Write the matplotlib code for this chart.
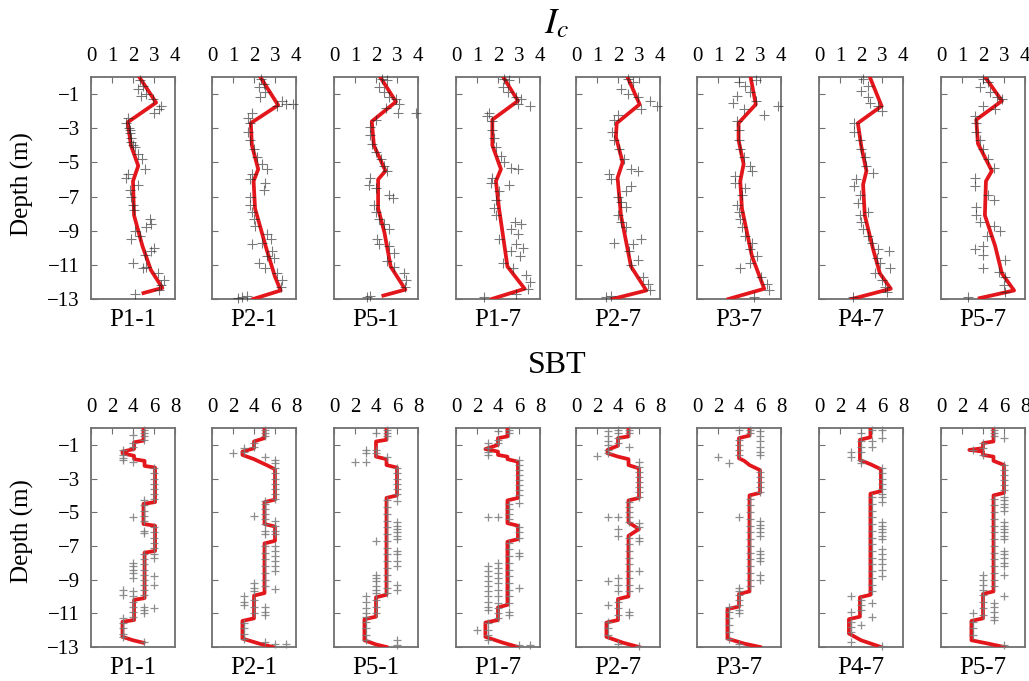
import matplotlib.pyplot as plt

plt.rcParams["font.family"] = ["Liberation Serif", "DejaVu Serif"]
plt.rcParams["mathtext.fontset"] = "stix"

# -----------------------------
# Panels and axes
# -----------------------------
panels = ["P1-1", "P2-1", "P5-1", "P1-7", "P2-7", "P3-7", "P4-7", "P5-7"]
depth_ticks = [-1, -3, -5, -7, -9, -11, -13]
ic_ticks = [0, 1, 2, 3, 4]
sbt_ticks = [0, 2, 4, 6, 8]

# -----------------------------
# Ic: fitted profile, (value, depth)
# -----------------------------
ic_line_p1_1 = [(2.3, 0), (3.1, -1.5), (1.75, -2.65), (1.9, -4.0), (2.25, -5.2), (2.0, -6.1),
                (2.05, -8.1), (2.45, -9.9), (2.85, -11.3), (3.4, -12.35), (2.5, -12.65)]
ic_line_p2_1 = [(2.3, 0), (3.15, -1.65), (1.85, -2.7), (1.9, -4.0), (2.2, -5.4), (1.98, -6.1),
                (2.05, -7.7), (2.6, -10.1), (3.0, -11.7), (3.27, -12.5), (1.96, -13.0)]
ic_line_p5_1 = [(2.2, 0), (2.95, -1.45), (1.8, -2.6), (1.9, -4.0), (2.45, -5.5), (2.1, -6.0),
                (2.1, -7.7), (2.4, -9.1), (2.7, -11.1), (3.4, -12.45), (2.35, -12.8)]
ic_line_p1_7 = [(2.25, 0), (2.95, -1.4), (1.73, -2.5), (1.73, -4.0), (2.14, -5.4), (1.9, -6.1),
                (2.05, -7.7), (2.45, -11.1), (3.27, -12.4), (1.7, -13.0)]
ic_line_p2_7 = [(2.45, 0), (3.03, -1.6), (1.94, -2.7), (1.9, -3.5), (2.22, -5.0), (1.98, -5.9),
                (2.14, -8.1), (2.62, -11.1), (3.35, -12.5), (1.73, -13.0)]
ic_line_p3_7 = [(2.55, 0), (2.8, -1.6), (1.98, -2.7), (1.98, -3.7), (2.22, -5.1), (2.06, -6.1),
                (2.14, -7.7), (2.62, -10.5), (3.2, -12.4), (1.5, -13.0)]
ic_line_p4_7 = [(2.42, 0), (2.98, -1.7), (1.85, -2.7), (2.02, -4.1), (2.26, -5.5), (2.1, -6.3),
                (2.18, -8.1), (2.58, -10.1), (2.9, -11.5), (3.42, -12.4), (1.56, -13.0)]
ic_line_p5_7 = [(2.1, 0), (2.9, -1.4), (1.68, -2.5), (1.76, -3.9), (2.42, -5.5), (2.14, -6.1),
                (2.09, -8.1), (2.58, -9.9), (2.9, -11.5), (3.48, -12.5), (1.84, -12.95)]

# -----------------------------
# Ic: measured points, (value, depth)
# -----------------------------
ic_pts_p1_1 = [(2.31, -0.2), (2.47, -0.5), (2.24, -0.7), (2.63, -1.0), (2.39, -1.1), (2.94, -1.3),
               (3.31, -1.7), (3.26, -1.9), (3.0, -2.1), (1.76, -2.4), (1.69, -2.7), (1.8, -3.0),
               (1.84, -3.1), (1.85, -3.3), (1.92, -3.6), (1.9, -3.8), (2.0, -4.0), (2.08, -4.1),
               (2.24, -4.5), (2.43, -4.8), (2.55, -5.4), (1.76, -5.7), (1.69, -5.9), (2.24, -6.3),
               (1.84, -6.6), (1.92, -7.0), (2.0, -7.5), (2.05, -7.8), (2.79, -8.3), (2.87, -8.6),
               (2.63, -8.8), (2.08, -9.0), (2.31, -9.3), (1.92, -9.5), (3.02, -10.0), (2.87, -10.2),
               (2.55, -10.4), (2.0, -10.9), (2.63, -11.1), (2.47, -11.2), (3.18, -11.5), (3.46, -11.9),
               (3.34, -12.2), (3.26, -12.5), (2.08, -12.7)]
ic_pts_p2_1 = [(2.33, -0.1), (2.46, -0.4), (2.22, -0.6), (2.54, -0.9), (2.3, -1.2), (3.35, -1.4),
               (3.51, -1.6), (3.84, -1.6), (3.1, -1.7), (1.9, -2.1), (1.73, -2.4), (1.81, -2.7),
               (1.73, -3.2), (1.81, -3.7), (1.98, -4.2), (2.14, -4.7), (2.38, -5.1), (2.62, -5.4),
               (1.9, -5.7), (1.81, -6.0), (2.54, -6.2), (2.46, -6.6), (1.81, -7.0), (1.81, -7.5),
               (1.9, -7.9), (1.98, -8.3), (2.06, -8.7), (2.62, -9.2), (2.79, -9.5), (1.9, -9.8),
               (2.38, -9.7), (2.87, -10.2), (2.62, -10.5), (2.95, -10.6), (2.22, -10.9), (2.54, -11.2),
               (3.11, -11.5), (3.35, -11.9), (3.27, -12.3), (1.41, -12.9), (1.25, -12.95), (1.65, -12.8)]
ic_pts_p5_1 = [(2.3, -0.1), (2.54, -0.2), (2.14, -0.6), (2.38, -0.9), (2.62, -1.2), (2.95, -1.3),
               (3.11, -1.6), (2.46, -1.8), (3.03, -2.1), (3.92, -2.1), (1.98, -2.5), (1.73, -2.9),
               (1.73, -3.4), (1.81, -3.9), (1.98, -4.4), (2.22, -4.8), (2.38, -5.2), (2.54, -5.5),
               (1.73, -5.9), (1.65, -6.3), (1.98, -6.5), (2.62, -6.9), (2.79, -7.1), (1.9, -7.5),
               (1.98, -7.9), (2.14, -8.3), (2.38, -8.6), (2.62, -8.9), (2.06, -9.5), (2.14, -9.8),
               (2.62, -9.9), (2.87, -10.3), (2.54, -10.8), (2.87, -11.1), (3.35, -11.5), (3.43, -11.9),
               (3.4, -12.3), (1.57, -12.9), (1.73, -12.8)]
ic_pts_p1_7 = [(2.3, -0.1), (2.54, -0.2), (2.22, -0.6), (2.46, -0.9), (2.87, -1.2), (3.11, -1.3),
               (3.51, -1.7), (2.95, -1.6), (1.57, -2.1), (1.49, -2.3), (1.73, -2.6), (1.73, -3.1),
               (1.81, -3.6), (1.9, -4.1), (2.14, -4.6), (2.3, -5.0), (2.62, -5.3), (2.95, -5.4),
               (1.73, -5.9), (1.65, -6.2), (2.54, -6.3), (2.06, -6.7), (1.9, -7.2), (1.81, -7.7),
               (1.9, -8.1), (2.79, -8.5), (3.11, -8.6), (2.62, -8.9), (2.95, -9.2), (2.06, -9.5),
               (2.87, -9.8), (3.19, -10.0), (2.62, -10.2), (3.03, -10.5), (2.22, -10.9), (2.7, -11.2),
               (3.35, -11.6), (3.51, -12.0), (3.43, -12.4), (1.33, -12.9), (2.87, -12.7)]
ic_pts_p2_7 = [(2.46, -0.1), (2.7, -0.3), (2.14, -0.7), (2.46, -1.0), (2.95, -1.2), (3.51, -1.4),
               (3.84, -1.7), (3.11, -1.9), (1.98, -2.2), (1.81, -2.5), (1.73, -3.2), (1.81, -3.7),
               (2.06, -4.2), (2.3, -4.8), (2.62, -5.4), (2.95, -5.5), (1.57, -5.7), (1.65, -6.0),
               (2.62, -6.4), (2.38, -6.7), (1.98, -7.0), (2.14, -7.3), (2.38, -7.6), (1.98, -8.1),
               (2.14, -8.5), (2.38, -8.8), (1.81, -9.7), (2.7, -9.8), (3.11, -9.5), (2.54, -10.2),
               (2.95, -10.7), (2.62, -11.0), (3.19, -11.7), (3.43, -12.1), (3.51, -12.5), (1.41, -12.9),
               (1.65, -12.85)]
ic_pts_p3_7 = [(1.98, -0.3), (2.3, -0.5), (2.79, -0.2), (2.54, -0.9), (1.9, -1.1), (1.73, -1.5),
               (2.79, -1.4), (3.84, -1.7), (2.22, -1.9), (3.19, -2.2), (1.9, -2.6), (1.98, -3.1),
               (1.98, -3.7), (2.06, -4.2), (2.22, -4.7), (2.54, -5.2), (2.62, -5.5), (1.81, -5.8),
               (1.81, -6.2), (2.3, -6.5), (2.14, -6.9), (1.9, -7.5), (1.98, -7.9), (2.06, -8.3),
               (2.14, -8.8), (2.3, -9.3), (2.62, -9.7), (2.54, -10.1), (2.87, -10.5), (2.06, -11.2),
               (2.54, -10.9), (3.03, -11.7), (3.35, -12.1), (3.43, -12.5), (2.7, -12.9)]
ic_pts_p4_7 = [(2.1, -0.1), (2.34, -0.5), (2.02, -0.8), (2.34, -1.2), (2.42, -1.5), (2.82, -1.7),
               (2.98, -2.0), (1.69, -2.7), (1.69, -3.2), (1.94, -3.7), (2.02, -4.2), (2.18, -4.7),
               (2.26, -5.2), (2.58, -5.6), (1.77, -6.0), (1.69, -6.4), (1.94, -6.9), (1.85, -7.4),
               (2.34, -7.9), (1.94, -8.1), (2.02, -8.5), (2.1, -8.9), (2.34, -9.3), (2.5, -9.7),
               (2.82, -10.1), (3.31, -10.2), (2.74, -10.6), (2.9, -10.9), (3.39, -11.2), (2.66, -11.5),
               (2.98, -11.9), (3.15, -12.3), (3.23, -12.6), (1.61, -12.9)]
ic_pts_p5_7 = [(2.01, -0.1), (2.25, -0.3), (1.84, -0.6), (2.33, -0.9), (2.66, -1.2), (2.91, -1.3),
               (2.01, -1.7), (2.58, -1.9), (1.6, -2.3), (1.68, -2.7), (1.68, -3.2), (1.84, -3.7),
               (2.01, -4.2), (2.25, -4.8), (2.5, -5.3), (1.6, -5.9), (1.6, -6.4), (2.25, -6.9),
               (2.5, -7.2), (1.68, -7.6), (1.68, -8.1), (1.84, -8.5), (2.5, -8.7), (2.82, -9.0),
               (2.17, -9.3), (1.6, -10.1), (2.01, -9.9), (2.01, -10.4), (3.07, -10.7), (2.01, -11.2),
               (2.74, -11.4), (3.07, -11.7), (2.99, -12.2), (3.07, -12.6), (1.27, -12.9)]

# -----------------------------
# SBT: fitted profile, (value, depth)
# -----------------------------
sbt_line_p1_1 = [(5.0, 0), (5.0, -0.75), (4.1, -0.85), (4.1, -1.25), (3.0, -1.4), (3.0, -1.5),
                 (4.1, -1.65), (4.1, -1.85), (5.1, -1.95), (5.1, -2.25), (6.1, -2.35), (6.1, -4.4),
                 (5.0, -4.5), (5.0, -5.7), (6.1, -5.8), (6.1, -7.3), (5.1, -7.4), (5.1, -10.1),
                 (4.1, -10.2), (4.1, -11.4), (3.0, -11.5), (3.0, -12.4), (4.0, -12.6), (5.0, -12.75)]
sbt_line_p2_1 = [(5.0, 0), (5.0, -0.6), (4.0, -0.8), (4.0, -1.2), (2.9, -1.4), (2.9, -1.6),
                 (4.0, -1.85), (5.2, -2.2), (6.0, -2.45), (6.0, -4.25), (5.0, -4.4), (5.0, -5.7),
                 (6.0, -5.85), (6.0, -6.7), (5.0, -6.85), (5.0, -9.8), (4.0, -9.95), (4.0, -11.3),
                 (2.9, -11.45), (2.9, -12.5), (4.5, -12.8), (5.8, -13.0)]
sbt_line_p5_1 = [(5.0, 0), (5.0, -0.7), (4.0, -0.8), (4.0, -1.7), (5.0, -1.85), (5.0, -2.2),
                 (6.0, -2.35), (6.0, -4.0), (5.0, -4.15), (5.0, -9.9), (4.0, -10.05), (4.0, -11.2),
                 (2.9, -11.35), (2.9, -12.6), (4.0, -12.85), (5.0, -13.0)]
sbt_line_p1_7 = [(4.9, 0), (4.9, -0.5), (4.0, -0.6), (4.0, -1.0), (2.8, -1.25), (4.0, -1.4),
                 (4.0, -1.6), (4.9, -1.7), (4.9, -1.85), (5.9, -2.0), (5.9, -4.15), (4.9, -4.3),
                 (4.9, -5.65), (5.9, -5.8), (5.9, -6.6), (4.9, -6.75), (4.9, -10.5), (4.0, -10.65),
                 (4.0, -11.4), (2.8, -11.55), (2.8, -12.4), (4.5, -12.75), (5.9, -13.0)]
sbt_line_p2_7 = [(5.0, 0), (5.0, -0.5), (4.0, -0.6), (4.0, -1.05), (3.0, -1.3), (3.0, -1.5),
                 (4.0, -1.7), (5.0, -1.85), (5.0, -2.2), (6.0, -2.4), (6.0, -4.15), (5.0, -4.3),
                 (5.0, -5.6), (6.0, -6.0), (5.0, -6.4), (5.0, -10.0), (4.0, -10.15), (4.0, -11.4),
                 (2.9, -11.55), (2.9, -12.4), (4.5, -12.75), (6.0, -13.0)]
sbt_line_p3_7 = [(5.0, 0), (5.0, -0.45), (4.0, -0.6), (4.0, -1.8), (4.5, -1.95), (5.0, -2.2),
                 (6.0, -2.5), (6.0, -3.85), (5.0, -4.0), (5.0, -9.7), (4.0, -9.85), (4.0, -10.6),
                 (2.9, -10.75), (2.9, -12.5), (4.5, -12.8), (6.0, -13.0)]
sbt_line_p4_7 = [(4.9, 0), (4.9, -0.55), (3.9, -0.7), (3.9, -1.9), (4.9, -2.15), (5.9, -2.45),
                 (5.9, -3.75), (4.9, -3.9), (4.9, -9.9), (3.9, -10.05), (3.9, -11.2), (2.85, -11.35),
                 (2.85, -12.2), (4.0, -12.6), (5.9, -13.0)]
sbt_line_p5_7 = [(5.0, 0), (5.0, -0.8), (4.0, -0.9), (4.0, -1.2), (2.7, -1.3), (4.0, -1.4),
                 (4.0, -1.6), (5.0, -1.7), (5.0, -1.95), (6.0, -2.2), (6.0, -3.85), (5.0, -4.0),
                 (5.0, -9.7), (4.0, -9.85), (4.0, -11.3), (2.9, -11.45), (2.9, -12.6), (4.5, -12.8),
                 (6.0, -13.0)]

# -----------------------------
# SBT: measured zones, {zone: depths}
# -----------------------------
sbt_pts_p1_1 = {3: [-1.3, -1.6, -1.8, -1.9, -9.6, -9.9, -11.3, -11.6, -11.9, -12.2, -12.4],
                4: [-0.4, -0.9, -1.1, -2.0, -5.3, -8.0, -8.2, -8.4, -8.6, -8.9, -9.7, -10.0, -10.3,
                    -10.6, -10.9, -11.2],
                5: [-0.1, -0.3, -0.5, -0.7, -4.3, -4.6, -4.9, -5.2, -5.5, -6.1, -6.25, -7.5, -7.8,
                    -8.1, -8.4, -8.7, -9.0, -9.3, -9.6, -9.9, -10.6, -10.8, -11.0, -12.7],
                6: [-2.4, -2.7, -3.0, -3.3, -3.6, -3.9, -4.2, -5.9, -6.2, -6.5, -6.8, -7.1, -7.5,
                    -7.7, -8.8, -9.3, -10.7]}
sbt_pts_p2_1 = {2: [-1.5],
                3: [-1.2, -1.4, -10.0, -10.3, -10.5, -11.6, -11.9, -12.2, -12.5],
                4: [-0.9, -1.1, -5.2, -9.2, -9.5, -9.7, -10.2, -10.6, -11.0],
                5: [-0.1, -0.3, -0.5, -1.7, -4.35, -4.5, -4.8, -5.1, -5.4, -5.7, -6.1, -6.3, -7.0,
                    -7.4, -7.8, -8.2, -8.6, -9.0, -9.4, -10.6, -10.9, -11.1, -12.7],
                6: [-1.9, -2.1, -2.4, -2.7, -3.0, -3.3, -3.6, -3.9, -4.2, -5.55, -5.8, -6.1, -6.3,
                    -7.0, -7.3, -7.6, -7.9, -8.2, -8.5, -9.55, -12.8],
                7: [-12.8]}
sbt_pts_p5_1 = {2: [-2.0],
                3: [-1.3, -1.5, -2.0, -10.0, -10.3, -10.7, -11.0, -11.2, -11.5, -11.9, -12.3, -12.6],
                4: [-0.3, -1.3, -1.5, -6.7, -8.7, -8.9, -9.1, -9.4, -9.6, -9.8, -10.2, -10.6, -11.0],
                5: [-0.1, -0.3, -0.5, -1.7, -4.3, -4.7, -5.1, -5.5, -5.9, -6.3, -6.7, -7.1, -7.5,
                    -7.9, -8.3, -8.7, -9.1, -9.5, -9.8],
                6: [-2.4, -2.7, -3.0, -3.3, -3.6, -3.9, -4.35, -5.6, -5.8, -6.0, -6.2, -6.4, -6.6,
                    -7.3, -7.5, -7.9, -8.2, -9.3, -9.6, -12.6, -12.9]}
sbt_pts_p1_7 = {2: [-12.0],
                3: [-0.9, -1.2, -1.4, -1.6, -5.3, -8.2, -8.5, -8.8, -9.1, -9.4, -9.7, -10.0, -10.3,
                    -10.6, -10.8, -11.6, -12.0, -12.3, -12.6],
                4: [-0.2, -0.7, -0.9, -5.3, -8.0, -8.3, -8.6, -8.9, -9.2, -9.6, -10.0, -10.4, -10.7,
                    -11.0, -11.3],
                5: [-0.1, -0.3, -4.5, -4.8, -5.1, -5.4, -6.8, -7.2, -7.6, -8.0, -8.4, -8.8, -9.2,
                    -9.6, -10.0, -10.4, -10.9, -11.1],
                6: [-1.9, -2.2, -2.5, -2.8, -3.1, -3.4, -3.7, -4.0, -4.45, -5.9, -6.2, -6.5, -7.4,
                    -7.6, -9.5, -12.9],
                7: [-12.9]}
sbt_pts_p2_7 = {2: [-1.65],
                3: [-0.2, -0.5, -0.8, -1.0, -1.3, -1.5, -5.3, -9.1, -10.5, -11.5, -11.9, -12.3],
                4: [-0.1, -0.3, -0.6, -0.9, -5.3, -6.0, -6.4, -8.9, -9.3, -9.7, -10.3, -10.7, -11.1,
                    -12.8],
                5: [-0.1, -0.3, -1.1, -4.4, -4.7, -5.0, -5.3, -5.6, -6.5, -6.9, -7.3, -7.7, -8.1,
                    -8.5, -8.9, -9.3, -9.7, -10.9, -11.1],
                6: [-2.0, -2.3, -2.6, -2.9, -3.2, -3.5, -3.8, -4.1, -5.65, -5.85, -6.5, -6.7, -8.5,
                    -9.5, -12.95]}
sbt_pts_p3_7 = {2: [-1.7],
                3: [-2.1, -10.6, -10.9, -11.3, -11.7, -12.1, -12.5],
                4: [-0.1, -0.7, -1.0, -1.3, -1.6, -5.3, -9.5, -9.7, -9.9, -10.2, -10.5, -10.8, -11.0,
                    -12.8],
                5: [-0.1, -0.3, -4.2, -4.6, -5.0, -5.4, -5.8, -6.2, -6.6, -7.0, -7.4, -7.8, -8.2,
                    -8.6, -9.0, -9.4],
                6: [-0.2, -0.5, -0.8, -1.1, -1.4, -1.6, -2.6, -2.9, -3.2, -3.5, -3.8, -5.55, -5.75,
                    -5.95, -6.15, -6.4, -7.3, -7.5, -7.7, -7.9, -8.7, -9.0]}
sbt_pts_p4_7 = {3: [-1.4, -1.7, -10.0, -10.9, -11.5, -11.8, -12.1, -12.7],
                4: [-0.3, -0.8, -1.1, -1.4, -1.9, -2.1, -10.2, -10.5, -10.8, -11.7],
                5: [-0.1, -0.8, -1.1, -4.1, -4.5, -4.9, -5.3, -5.7, -6.1, -6.5, -6.9, -7.3, -7.7,
                    -8.1, -8.5, -8.9, -9.3, -9.7, -10.4, -11.2],
                6: [-0.1, -0.6, -2.4, -2.7, -3.0, -3.3, -3.6, -3.9, -4.1, -4.4, -5.6, -5.8, -6.0,
                    -6.2, -6.4, -6.6, -7.2, -7.5, -7.8, -8.1, -8.4, -8.8, -12.95]}
sbt_pts_p5_7 = {3: [-1.3, -11.0, -11.5, -11.9, -12.3],
                4: [-0.9, -1.2, -1.6, -8.7, -9.0, -9.3, -9.6, -9.9, -10.3, -10.7, -11.1],
                5: [-0.1, -0.3, -0.5, -4.2, -4.6, -5.0, -5.4, -5.8, -6.2, -6.6, -7.0, -7.4, -7.8,
                    -8.2, -8.6, -9.0, -9.4, -10.4, -10.6, -10.9, -11.2, -11.4],
                6: [-0.6, -2.2, -2.5, -2.8, -3.1, -3.4, -3.7, -4.1, -4.3, -4.5, -4.7, -4.9, -5.6,
                    -5.8, -6.0, -6.2, -6.4, -6.6, -7.3, -7.5, -7.7, -8.0, -8.2, -8.7, -10.0, -12.9]}

ic_lines = [ic_line_p1_1, ic_line_p2_1, ic_line_p5_1, ic_line_p1_7,
            ic_line_p2_7, ic_line_p3_7, ic_line_p4_7, ic_line_p5_7]
ic_pts = [ic_pts_p1_1, ic_pts_p2_1, ic_pts_p5_1, ic_pts_p1_7,
          ic_pts_p2_7, ic_pts_p3_7, ic_pts_p4_7, ic_pts_p5_7]
sbt_lines = [sbt_line_p1_1, sbt_line_p2_1, sbt_line_p5_1, sbt_line_p1_7,
             sbt_line_p2_7, sbt_line_p3_7, sbt_line_p4_7, sbt_line_p5_7]
sbt_pts = [sbt_pts_p1_1, sbt_pts_p2_1, sbt_pts_p5_1, sbt_pts_p1_7,
           sbt_pts_p2_7, sbt_pts_p3_7, sbt_pts_p4_7, sbt_pts_p5_7]

# -----------------------------
# Figure layout
# -----------------------------
W, H = 1029, 681
fig = plt.figure(figsize=(W / 100, H / 100), dpi=100)
lefts_px = [91, 212, 334, 456, 576, 697, 819, 941]
panel_w = 84
spine_col = "#707070"
red = "#e3161b"


def style_axis(ax, xmax, xticks, first, label):
    ax.set_xlim(0, xmax)
    ax.set_ylim(-13, 0)
    ax.set_xticks(xticks)
    ax.set_yticks(depth_ticks)
    ax.xaxis.tick_top()
    ax.tick_params(axis="x", direction="in", length=4, color=spine_col, labelsize=15, pad=8)
    ax.tick_params(axis="y", direction="in", length=4, color=spine_col, labelsize=15, pad=8,
                   labelleft=first)
    for s in ax.spines.values():
        s.set_color(spine_col)
        s.set_linewidth(1.3)
    ax.text(0.5, -0.045, label, transform=ax.transAxes, ha="center", va="top", fontsize=18)


def add_row(top_px, bottom_px, lines, pts, xmax, xticks, is_sbt):
    for i, name in enumerate(panels):
        rect = [lefts_px[i] / W, 1 - bottom_px / H, panel_w / W, (bottom_px - top_px) / H]
        ax = fig.add_axes(rect)
        lx, ld = zip(*lines[i])
        ax.plot(lx, ld, color=red, lw=2.7, solid_joinstyle="round", zorder=3)
        if is_sbt:
            for zone, depths in pts[i].items():
                ax.plot([zone] * len(depths), depths, "+", color="#7a7a7a", ms=6, mew=0.9,
                        alpha=0.85, zorder=4, clip_on=False)
        else:
            px, pd = zip(*pts[i])
            ax.plot(px, pd, "+", color="#222222", ms=7.5, mew=0.8, alpha=0.6, zorder=4,
                    clip_on=False)
        style_axis(ax, xmax, xticks, i == 0, name)


add_row(77, 299, ic_lines, ic_pts, 4, ic_ticks, False)
add_row(428, 647, sbt_lines, sbt_pts, 8, sbt_ticks, True)

# titles and depth labels
fig.text(557 / W, 1 - 25 / H, r"$I_c$", ha="center", va="center", fontsize=26)
fig.text(557 / W, 1 - 366 / H, "SBT", ha="center", va="center", fontsize=23)
fig.text(22 / W, 1 - 184 / H, "Depth (m)", rotation=90, ha="center", va="center", fontsize=18)
fig.text(22 / W, 1 - 531 / H, "Depth (m)", rotation=90, ha="center", va="center", fontsize=18)

fig.savefig("out.png", dpi=100)
